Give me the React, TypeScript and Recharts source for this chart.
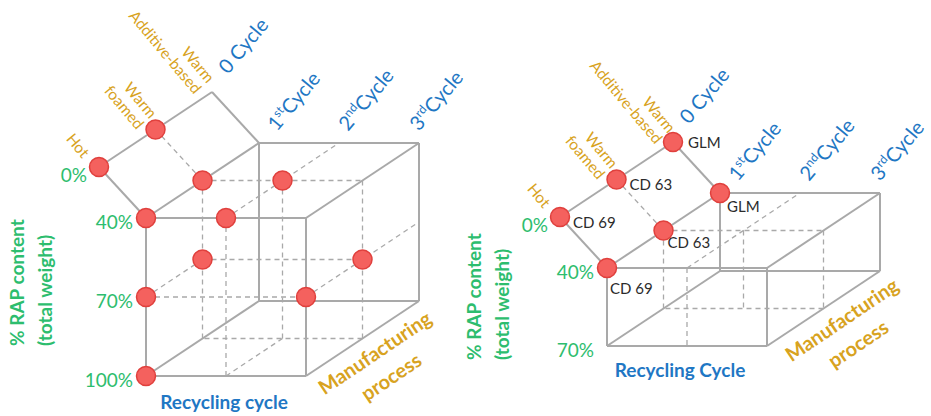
import { ReferenceLine, Scatter, ScatterChart, XAxis, YAxis } from 'recharts'

const W = 931
const H = 416

// ejes del diagrama (indices: ciclo, % RAP, proceso)
const cycleNums = ['0', '1', '2', '3']
const cycleSups = ['', 'st', 'nd', 'rd']
const rapLevels = ['0%', '40%', '70%', '100%']
const processLabels = [['Hot'], ['Warm', 'foamed'], ['Warm', 'Additive-based']]

const rapTitle = ['% RAP content', '(total weight)']
const cycleTitles = ['Recycling cycle', 'Recycling Cycle']
const processTitle = ['Manufacturing', 'process']

// puntos estudiados [ciclo, rap, proceso]
const leftPoints = [
  [0, 0, 0], [0, 0, 1],
  [1, 1, 0], [1, 1, 1], [2, 1, 0], [2, 1, 1],
  [1, 2, 0], [1, 2, 1], [3, 2, 0], [3, 2, 1],
  [1, 3, 0]
]
const rightPoints = [
  [0, 0, 0], [0, 0, 1], [0, 0, 2],
  [1, 1, 0], [1, 1, 1], [1, 1, 2]
]
const rightBinders = ['CD 69', 'CD 63', 'GLM', 'CD 69', 'CD 63', 'GLM']

// lineas punteadas interiores
const leftDashed = [
  [[0, 0, 1], [1, 1, 1]],
  [[1, 1, 1], [3, 1, 1]], [[3, 1, 1], [3, 3, 1]], [[3, 3, 1], [1, 3, 1]], [[1, 3, 1], [1, 1, 1]],
  [[2, 1, 1], [2, 3, 1]], [[1, 2, 1], [3, 2, 1]],
  [[2, 1, 0], [2, 3, 0]], [[1, 2, 0], [3, 2, 0]],
  [[2, 1, 0], [2, 1, 2]], [[1, 2, 0], [1, 2, 1]], [[3, 2, 0], [3, 2, 2]], [[2, 3, 0], [2, 3, 1]]
]
const rightDashed = [
  [[0, 0, 1], [1, 1, 1]],
  [[1, 1, 1], [3, 1, 1]], [[3, 1, 1], [3, 2, 1]], [[3, 2, 1], [1, 2, 1]], [[1, 2, 1], [1, 1, 1]],
  [[2, 1, 1], [2, 2, 1]], [[2, 1, 0], [2, 2, 0]],
  [[2, 1, 0], [2, 1, 2]]
]

// ---- layout ----
const STEP_X = 80
const DEPTH = { x: 56.5, y: -37.5 }
const ROOF = { x: -47, y: -51 }

const GREEN = '#2dbd6e'
const BLUE = '#1f77c4'
const ORANGE = '#d8a31f'
const GREY = '#a9a9a9'
const FONT = 'Lato, "Open Sans", sans-serif'

type Panel = {
  ox: number, oy: number, stepY: number, rMax: number,
  rapTitle: { x: number, y: number }, cycleTitle: { x: number, y: number }, procTitle: { x: number, y: number }
}

const panels: Panel[] = [
  { ox: 146, oy: 218, stepY: 79, rMax: 3, rapTitle: { x: 17, y: 346 }, cycleTitle: { x: 224, y: 402 }, procTitle: { x: 375, y: 353 } },
  { ox: 607, oy: 268, stepY: 78, rMax: 2, rapTitle: { x: 474, y: 360 }, cycleTitle: { x: 680, y: 370 }, procTitle: { x: 842, y: 320 } }
]

const cycleLabelDx = [18, 9, 0]
const procLabelOff = [{ x: -17, y: -8 }, { x: -6, y: -10 }, { x: -5, y: -8 }]
const binderOff = [[13, 6], [13, 5], [15, 1], [3, 21], [4, 12], [7, 14]]

function proj (pn: Panel, c: number, r: number, p: number): { x: number, y: number } {
  if (c === 0) {
    const b = proj(pn, 1, 1, p)
    return { x: b.x + ROOF.x, y: b.y + ROOF.y }
  }
  return {
    x: pn.ox + (c - 1) * STEP_X + p * DEPTH.x,
    y: pn.oy + (r - 1) * pn.stepY + p * DEPTH.y
  }
}

function solidEdges (pn: Panel) {
  const r1 = 1
  const r2 = pn.rMax
  const e: number[][][] = [
    [[0, 0, 0], [0, 0, 2]], [[0, 0, 0], [1, 1, 0]], [[0, 0, 2], [1, 1, 2]]
  ]
  for (const p of [0, 2]) {
    e.push([[1, r1, p], [3, r1, p]], [[1, r2, p], [3, r2, p]], [[1, r1, p], [1, r2, p]], [[3, r1, p], [3, r2, p]])
  }
  for (const c of [1, 3]) {
    for (const r of [r1, r2]) e.push([[c, r, 0], [c, r, 2]])
  }
  return e
}

const textShape = (st: { size: number, color: string, weight?: string | number, angle?: number, anchor?: string, lh?: number, dy?: string }) =>
  (props: any) => {
    const { cx, cy, payload } = props
    const lines: string[] = payload.lines
    return (
      <text
        transform={`translate(${cx},${cy}) rotate(${st.angle ?? 0})`}
        textAnchor={st.anchor ?? 'start'}
        fill={st.color}
        fontSize={st.size}
        fontWeight={st.weight ?? 'normal'}
        fontFamily={FONT}
      >
        {lines.map((l, i) => (
          <tspan key={i} x={0} y={i * (st.lh ?? 0)} dy={st.dy ?? 0}>{l}</tspan>
        ))}
      </text>
    )
  }

const cycleShape = (props: any) => {
  const { cx, cy, payload } = props
  return (
    <text transform={`translate(${cx},${cy}) rotate(-50)`} fill={BLUE} fontSize={20} fontFamily={FONT}>
      <tspan>{payload.num}</tspan>
      {payload.sup
        ? <><tspan fontSize={12} dy={-8}>{payload.sup}</tspan><tspan dy={8}>Cycle</tspan></>
        : <tspan> Cycle</tspan>}
    </text>
  )
}

const dotShape = (props: any) => (
  <circle cx={props.cx} cy={props.cy} r={9.5} fill='#f4615e' stroke='#e0403d' strokeWidth={1.5} />
)

function PanelSeries (pn: Panel, idx: number) {
  const pts = idx === 0 ? leftPoints : rightPoints
  const dashed = idx === 0 ? leftDashed : rightDashed
  const dots = pts.map(([c, r, p]) => proj(pn, c, r, p))

  const rapLab = rapLevels.slice(0, pn.rMax + 1).map((t, r) => {
    const a = r === 0 ? proj(pn, 0, 0, 0) : proj(pn, 1, r, 0)
    return r === 0 ? { x: a.x - 12, y: a.y + 8, lines: [t] } : { x: a.x - 13, y: a.y + 4, lines: [t] }
  })
  const cycLab = cycleNums.map((n, c) => {
    const a = c === 0 ? proj(pn, 0, 0, 2) : proj(pn, c, 1, 2)
    const off = c === 0 ? { x: 16, y: -17 } : { x: cycleLabelDx[c - 1], y: -11 }
    return { x: a.x + off.x, y: a.y + off.y, num: n, sup: cycleSups[c] }
  })
  const procLab = processLabels.map((lines, p) => {
    const a = proj(pn, 0, 0, p)
    return { x: a.x + procLabelOff[p].x, y: a.y + procLabelOff[p].y, lines }
  })
  const binderLab = idx === 1
    ? rightBinders.map((t, i) => ({ x: dots[i].x + binderOff[i][0], y: dots[i].y + binderOff[i][1], lines: [t] }))
    : []

  return [
    ...dashed.map(([a, b], i) => {
      const pa = proj(pn, a[0], a[1], a[2])
      const pb = proj(pn, b[0], b[1], b[2])
      return <ReferenceLine key={`d${idx}-${i}`} segment={[pa, pb]} stroke={GREY} strokeWidth={1.3} strokeDasharray='5 4' ifOverflow='visible' />
    }),
    ...solidEdges(pn).map(([a, b], i) => {
      const pa = proj(pn, a[0], a[1], a[2])
      const pb = proj(pn, b[0], b[1], b[2])
      return <ReferenceLine key={`s${idx}-${i}`} segment={[pa, pb]} stroke={GREY} strokeWidth={2} ifOverflow='visible' />
    }),
    <Scatter key={`pts${idx}`} data={dots} shape={dotShape} isAnimationActive={false} />,
    <Scatter key={`bl${idx}`} data={binderLab} shape={textShape({ size: 15, color: '#2b2b2b', dy: '0.35em' })} isAnimationActive={false} />,
    <Scatter key={`rl${idx}`} data={rapLab} shape={textShape({ size: 19, color: GREEN, anchor: 'end', dy: '0.35em' })} isAnimationActive={false} />,
    <Scatter key={`cl${idx}`} data={cycLab} shape={cycleShape} isAnimationActive={false} />,
    <Scatter key={`pl${idx}`} data={procLab} shape={textShape({ size: 15.5, color: ORANGE, angle: 50, anchor: 'end', lh: 17 })} isAnimationActive={false} />,
    <Scatter key={`rt${idx}`} data={[{ ...pn.rapTitle, lines: rapTitle }]} shape={textShape({ size: 19, color: GREEN, weight: 'bold', angle: -90, lh: 28, dy: '0.35em' })} isAnimationActive={false} />,
    <Scatter key={`ct${idx}`} data={[{ ...pn.cycleTitle, lines: [cycleTitles[idx]] }]} shape={textShape({ size: 19, color: BLUE, weight: 'bold', anchor: 'middle', dy: '0.35em' })} isAnimationActive={false} />,
    <Scatter key={`mt${idx}`} data={[{ ...pn.procTitle, lines: processTitle }]} shape={textShape({ size: 20, color: ORANGE, weight: 'bold', angle: -34, anchor: 'middle', lh: 29, dy: '0.35em' })} isAnimationActive={false} />
  ]
}

export default function App () {
  return (
    <div style={{ position: 'absolute', left: 0, top: 0, background: '#fff' }}>
      <ScatterChart width={W} height={H} margin={{ top: 0, right: 0, bottom: 0, left: 0 }}>
        <XAxis type='number' dataKey='x' domain={[0, W]} hide />
        <YAxis type='number' dataKey='y' domain={[0, H]} reversed hide />
        {panels.map((pn, i) => PanelSeries(pn, i))}
      </ScatterChart>
    </div>
  )
}
